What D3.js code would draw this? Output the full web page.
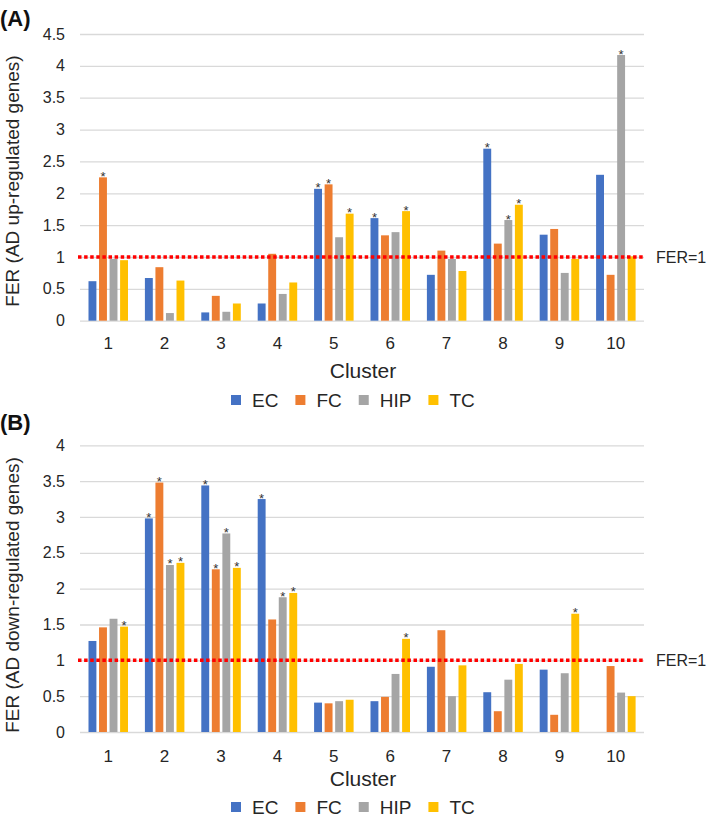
<!DOCTYPE html>
<html>
<head>
<meta charset="utf-8">
<script src="https://cdn.jsdelivr.net/npm/d3@7"></script>
<style>
  body { margin: 0; background: #fff; }
  svg { display: block; font-family: "Liberation Sans", Arial, sans-serif; }
</style>
</head>
<body>
<script>
// categories and series
const clusters = ["1", "2", "3", "4", "5", "6", "7", "8", "9", "10"];
const regions = ["EC", "FC", "HIP", "TC"];
const colors = ["#4472C4", "#ED7D31", "#A5A5A5", "#FFC000"];

// (A) FER of AD up-regulated genes
const upEC  = [0.62, 0.67, 0.13, 0.27, 2.07, 1.61, 0.72, 2.70, 1.35, 2.29];
const upFC  = [2.25, 0.84, 0.39, 1.05, 2.14, 1.34, 1.10, 1.21, 1.44, 0.72];
const upHIP = [0.97, 0.12, 0.14, 0.42, 1.31, 1.39, 0.97, 1.58, 0.75, 4.17];
const upTC  = [0.95, 0.63, 0.27, 0.60, 1.68, 1.72, 0.78, 1.82, 0.97, 1.01];
const upStars = [["FC"], [], [], [], ["EC", "FC", "TC"], ["EC", "TC"], [], ["EC", "HIP", "TC"], [], ["HIP"]];
const upTicks = [0, 0.5, 1, 1.5, 2, 2.5, 3, 3.5, 4, 4.5];

// (B) FER of AD down-regulated genes
const downEC  = [1.27, 2.98, 3.44, 3.25, 0.41, 0.43, 0.91, 0.555, 0.87, 0];
const downFC  = [1.46, 3.48, 2.27, 1.57, 0.40, 0.49, 1.42, 0.29, 0.24, 0.92];
const downHIP = [1.58, 2.33, 2.77, 1.88, 0.43, 0.81, 0.50, 0.73, 0.82, 0.55];
const downTC  = [1.47, 2.36, 2.29, 1.94, 0.45, 1.30, 0.93, 0.95, 1.65, 0.50];
const downStars = [["TC"], ["EC", "FC", "HIP", "TC"], ["EC", "FC", "HIP", "TC"], ["EC", "HIP", "TC"], [], ["TC"], [], [], ["TC"], []];
const downTicks = [0, 0.5, 1, 1.5, 2, 2.5, 3, 3.5, 4];

const W = 709, H = 821;
const FONT = "\"Liberation Sans\", Arial, sans-serif";

const svg = d3.select("body").append("svg")
    .attr("width", W)
    .attr("height", H);

// shared horizontal scales
const left = 80, right = 644;
const x0 = d3.scaleBand().domain(clusters).range([left, right]);
const x1 = d3.scaleBand().domain(regions).range([8.5, 48]).paddingInner(0.25);
const color = d3.scaleOrdinal().domain(regions).range(colors);

/**
 * draws one panel of grouped bars
 */
function drawPanel(p) {
    const g = svg.append("g");
    const y = d3.scaleLinear().domain([0, p.yMax]).range([p.bottom, p.top]);

    // gridlines + y tick labels
    const yAxis = g.append("g")
        .attr("transform", `translate(${left},0)`)
        .call(d3.axisLeft(y).tickValues(p.ticks).tickFormat(d => String(d))
            .tickSize(-(right - left)).tickPadding(15));
    yAxis.select(".domain").remove();
    yAxis.selectAll("line").attr("stroke", "#d9d9d9").attr("stroke-width", 1.3);
    yAxis.selectAll("text").attr("font-size", 16).attr("font-family", FONT).attr("fill", "#262626");

    // cluster labels
    const xAxis = g.append("g")
        .attr("transform", `translate(0,${p.bottom})`)
        .call(d3.axisBottom(x0).tickSize(0).tickPadding(p.xPad));
    xAxis.select(".domain").remove();
    xAxis.selectAll("text").attr("font-size", 17).attr("font-family", FONT).attr("fill", "#262626");

    // bars
    const rows = clusters.map((c, i) => ({
        cluster: c,
        vals: regions.map((r, j) => ({ region: r, value: p.series[j][i], star: p.stars[i].includes(r) }))
    }));

    const groups = g.selectAll("g.grp")
        .data(rows)
        .enter()
        .append("g")
        .attr("class", "grp")
        .attr("transform", d => `translate(${x0(d.cluster)},0)`);

    groups.selectAll("rect")
        .data(d => d.vals)
        .enter()
        .append("rect")
        .attr("x", d => x1(d.region))
        .attr("width", x1.bandwidth())
        .attr("y", d => y(d.value))
        .attr("height", d => y(0) - y(d.value))
        .attr("fill", d => color(d.region));

    // significance stars
    groups.selectAll("text.star")
        .data(d => d.vals.filter(v => v.star))
        .enter()
        .append("text")
        .attr("class", "star")
        .attr("x", d => x1(d.region) + x1.bandwidth() / 2)
        .attr("y", d => y(d.value) + 3.5)
        .attr("text-anchor", "middle")
        .attr("font-size", 13)
        .attr("fill", "#333")
        .text("*");

    // FER = 1 reference line
    g.append("line")
        .attr("x1", 78).attr("x2", 643)
        .attr("y1", y(1)).attr("y2", y(1))
        .attr("stroke", "#FF0000")
        .attr("stroke-width", 3.5)
        .attr("stroke-dasharray", "3.5,2.6");

    g.append("text")
        .attr("x", 656)
        .attr("y", y(1) + 6)
        .attr("font-size", 16)
        .attr("fill", "#262626")
        .text("FER=1");

    // panel letter
    g.append("text")
        .attr("x", 0)
        .attr("y", p.letterY)
        .attr("font-size", 22)
        .attr("font-weight", "bold")
        .attr("fill", "#111")
        .text(p.letter);

    // y axis title
    g.append("text")
        .attr("transform", `translate(19,${p.titleY}) rotate(-90)`)
        .attr("text-anchor", "middle")
        .attr("font-size", 19)
        .attr("fill", "#262626")
        .text(p.yTitle);

    // x axis title
    g.append("text")
        .attr("x", 363)
        .attr("y", p.clusterY)
        .attr("text-anchor", "middle")
        .attr("font-size", 21)
        .attr("fill", "#262626")
        .text("Cluster");

    // legend
    let cx = 231;
    regions.forEach(r => {
        g.append("rect")
            .attr("x", cx).attr("y", p.legendY - 5)
            .attr("width", 10).attr("height", 10)
            .attr("fill", color(r));
        const t = g.append("text")
            .attr("x", cx + 21)
            .attr("y", p.legendY + 6.8)
            .attr("font-size", 19)
            .attr("fill", "#262626")
            .text(r);
        cx += 21 + t.node().getComputedTextLength() + 17;
    });
}

drawPanel({
    letter: "(A)", letterY: 26,
    series: [upEC, upFC, upHIP, upTC], stars: upStars, ticks: upTicks,
    yMax: 4.5, top: 34, bottom: 320.7, xPad: 16,
    yTitle: "FER (AD up-regulated genes)", titleY: 181,
    clusterY: 377.5, legendY: 400
});

drawPanel({
    letter: "(B)", letterY: 430,
    series: [downEC, downFC, downHIP, downTC], stars: downStars, ticks: downTicks,
    yMax: 4, top: 445.3, bottom: 732, xPad: 18,
    yTitle: "FER (AD down-regulated genes)", titleY: 595,
    clusterY: 785.5, legendY: 807
});
</script>
</body>
</html>
